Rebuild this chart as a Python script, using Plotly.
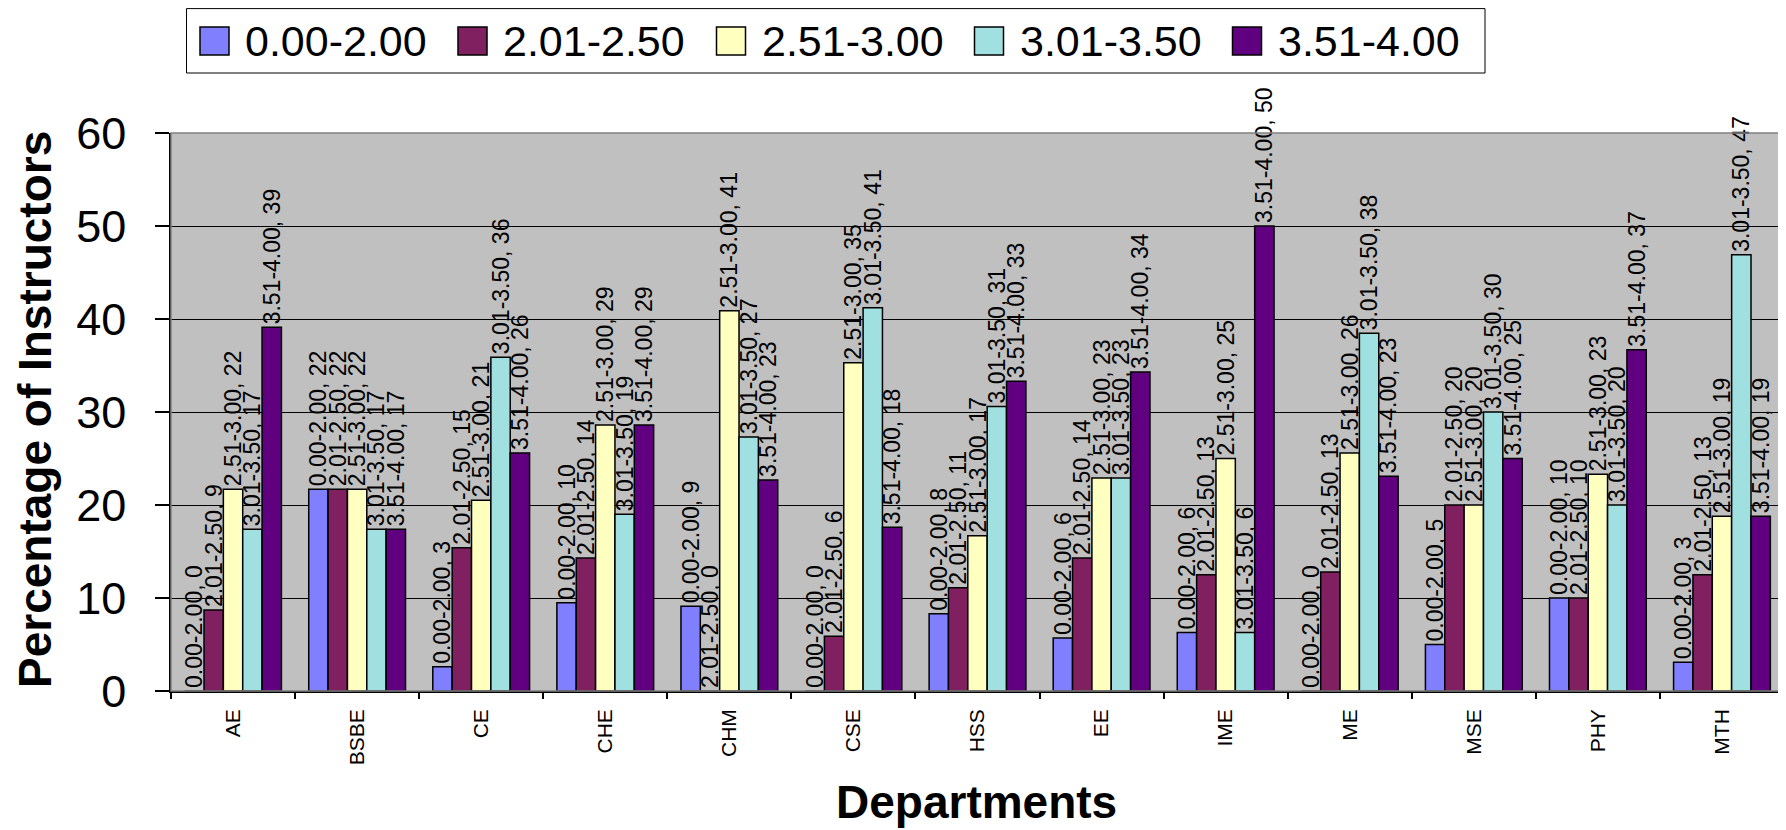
import plotly.graph_objects as go

departments = ["AE", "BSBE", "CE", "CHE", "CHM", "CSE", "HSS", "EE", "IME", "ME", "MSE", "PHY", "MTH"]
series_names = ["0.00-2.00", "2.01-2.50", "2.51-3.00", "3.01-3.50", "3.51-4.00"]

gpa_000_200 = [0, 21.7, 2.6, 9.5, 9.1, 0, 8.3, 5.7, 6.3, 0, 5.0, 10.0, 3.1]
gpa_201_250 = [8.7, 21.7, 15.4, 14.3, 0, 5.9, 11.1, 14.3, 12.5, 12.8, 20.0, 10.0, 12.5]
gpa_251_300 = [21.7, 21.7, 20.5, 28.6, 40.9, 35.3, 16.7, 22.9, 25.0, 25.6, 20.0, 23.3, 18.8]
gpa_301_350 = [17.4, 17.4, 35.9, 19.0, 27.3, 41.2, 30.6, 22.9, 6.3, 38.46, 30.0, 20.0, 46.9]
gpa_351_400 = [39.1, 17.4, 25.6, 28.6, 22.7, 17.6, 33.3, 34.3, 50.0, 23.1, 25.0, 36.7, 18.8]

y_tick_values = [0, 10, 20, 30, 40, 50, 60]

series_values = [gpa_000_200, gpa_201_250, gpa_251_300, gpa_301_350, gpa_351_400]
colors = ["#8080FF", "#802060", "#FFFFC0", "#A0E0E0", "#600080"]

FONT = "Liberation Sans, Arial, sans-serif"
# the page body has an 8px default margin; size the figure so it fills the window exactly
OFF = 8
W, H = 1786 - OFF, 830 - OFF
ML, MR, MT, MB = 171 - OFF, 2, 133 - OFF, 830 - 691
PW, PH = W - ML - MR, H - MT - MB


def px(x):
    """screen x (window pixels) -> paper x"""
    return (x - OFF - ML) / PW


def py(y):
    """screen y (window pixels) -> paper y"""
    return (H - MB - (y - OFF)) / PH


fig = go.Figure()
for name, vals, col in zip(series_names, series_values, colors):
    labels = [f"{name}, {int(v + 0.5)}" for v in vals]
    fig.add_trace(go.Bar(
        name=name, x=departments, y=vals,
        marker=dict(color=col, line=dict(color="black", width=1.5)),
        text=labels, textposition="outside", textangle=-90,
        constraintext="none", cliponaxis=False,
        outsidetextfont=dict(family=FONT, size=23, color="black"),
        showlegend=False,
    ))

shapes = []
annotations = []

# plot border (top/right gray)
shapes.append(dict(type="rect", xref="paper", yref="paper", x0=0, x1=1, y0=0, y1=1,
                   line=dict(color="#808080", width=1.5), layer="above"))

# legend box
shapes.append(dict(type="rect", xref="paper", yref="paper",
                   x0=px(186.5), x1=px(1485), y0=py(73), y1=py(8.6),
                   line=dict(color="black", width=1), fillcolor="white", layer="above"))
leg_x = [200, 458, 716.5, 974.5, 1232.5]
for lx, name, col in zip(leg_x, series_names, colors):
    shapes.append(dict(type="rect", xref="paper", yref="paper",
                       x0=px(lx), x1=px(lx + 29), y0=py(55), y1=py(27),
                       line=dict(color="black", width=1.5), fillcolor=col, layer="above"))
    annotations.append(dict(xref="paper", yref="paper", x=px(lx + 43), y=py(41),
                            xanchor="left", yanchor="middle", showarrow=False,
                            text=name, font=dict(family=FONT, size=43, color="black")))

annotations.append(dict(xref="paper", yref="paper", x=px(976), y=py(802),
                        xanchor="center", yanchor="middle", showarrow=False,
                        text="<b>Departments</b>", font=dict(family=FONT, size=46, color="black")))
annotations.append(dict(xref="paper", yref="paper", x=px(35), y=py(410),
                        xanchor="center", yanchor="middle", showarrow=False, textangle=-90,
                        text="<b>Percentage of Instructors</b>", font=dict(family=FONT, size=46, color="black")))

fig.update_layout(
    width=W, height=H,
    margin=dict(l=ML, r=MR, t=MT, b=MB, autoexpand=False),
    paper_bgcolor="white", plot_bgcolor="#C0C0C0",
    barmode="group", bargap=0.22, bargroupgap=0,
    showlegend=False,
    shapes=shapes, annotations=annotations,
    font=dict(family=FONT, color="black"),
)
fig.update_xaxes(
    type="category", tickson="boundaries", ticks="outside", ticklen=6, tickwidth=1.5,
    tickcolor="black", tickangle=-90, tickfont=dict(family=FONT, size=21, color="black"),
    showline=True, linecolor="black", linewidth=1.5, showgrid=False,
    ticklabelstandoff=8,
)
fig.update_yaxes(
    range=[0, 60], tickvals=y_tick_values, ticks="outside", ticklen=14, tickwidth=1.5,
    tickcolor="black", tickfont=dict(family=FONT, size=45, color="black"),
    showline=True, linecolor="black", linewidth=1.5,
    showgrid=True, gridcolor="black", gridwidth=1, zeroline=False,
    ticklabelstandoff=20,
)

fig.write_html("out.html")
